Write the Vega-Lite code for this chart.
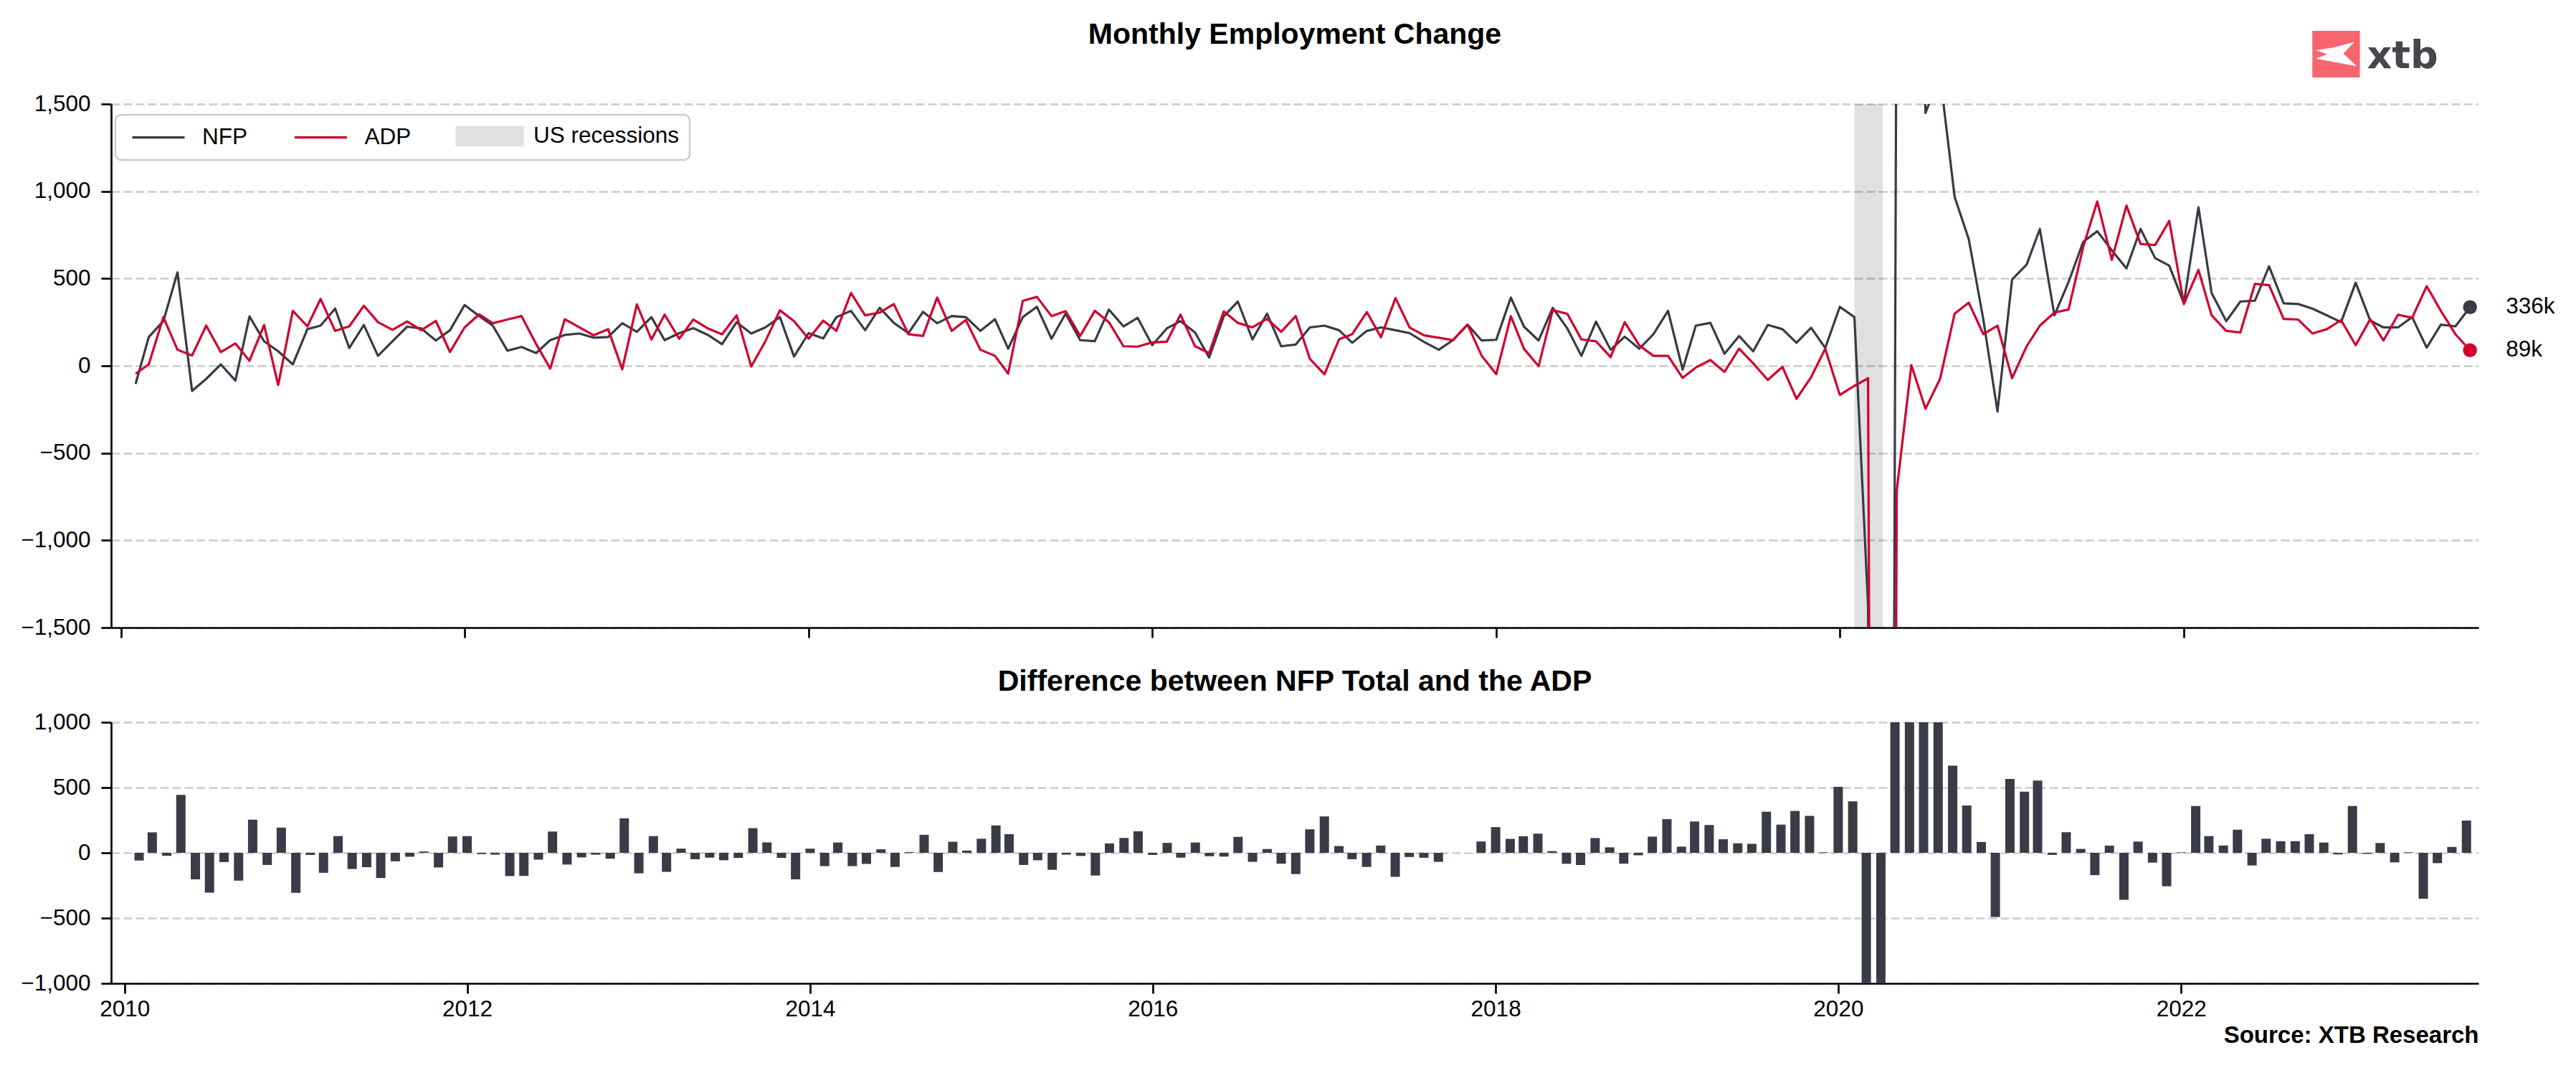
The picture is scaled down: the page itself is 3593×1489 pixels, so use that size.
{
  "$schema": "https://vega.github.io/schema/vega-lite/v6.json",
  "background": "white",
  "padding": {"left": 28, "top": 28, "right": 5, "bottom": 5},
  "config": {
    "font": "Liberation Sans",
    "view": {"stroke": null},
    "axis": {"domainColor": "#000000", "domainWidth": 2.7, "tickColor": "#000000", "tickWidth": 2.7, "tickSize": 14, "labelFont": "Liberation Sans", "labelFontSize": 31.5, "labelColor": "#000000", "gridColor": "#cccccc", "gridDash": [12, 5], "gridWidth": 2.5},
    "axisX": {"grid": false, "labelPadding": 6},
    "axisY": {"grid": true, "labelPadding": 15},
    "title": {"font": "Liberation Sans", "fontSize": 41, "fontWeight": "bold", "color": "#000000", "anchor": "middle", "frame": "group"}
  },
  "datasets": {
    "rec": [{"start": "2020-02-01", "end": "2020-04-01"}],
    "emp": [
      {"d": "2010-02-01", "NFP": -104, "ADP": -45, "Difference": -59},
      {"d": "2010-03-01", "NFP": 165, "ADP": 8, "Difference": 157},
      {"d": "2010-04-01", "NFP": 256, "ADP": 279, "Difference": -23},
      {"d": "2010-05-01", "NFP": 535, "ADP": 92, "Difference": 443},
      {"d": "2010-06-01", "NFP": -144, "ADP": 59, "Difference": -203},
      {"d": "2010-07-01", "NFP": -75, "ADP": 230, "Difference": -305},
      {"d": "2010-08-01", "NFP": 8, "ADP": 79, "Difference": -71},
      {"d": "2010-09-01", "NFP": -85, "ADP": 128, "Difference": -213},
      {"d": "2010-10-01", "NFP": 283, "ADP": 29, "Difference": 254},
      {"d": "2010-11-01", "NFP": 141, "ADP": 234, "Difference": -93},
      {"d": "2010-12-01", "NFP": 83, "ADP": -110, "Difference": 193},
      {"d": "2011-01-01", "NFP": 8, "ADP": 315, "Difference": -307},
      {"d": "2011-02-01", "NFP": 210, "ADP": 226, "Difference": -16},
      {"d": "2011-03-01", "NFP": 230, "ADP": 383, "Difference": -153},
      {"d": "2011-04-01", "NFP": 328, "ADP": 200, "Difference": 128},
      {"d": "2011-05-01", "NFP": 102, "ADP": 226, "Difference": -124},
      {"d": "2011-06-01", "NFP": 234, "ADP": 344, "Difference": -110},
      {"d": "2011-07-01", "NFP": 57, "ADP": 250, "Difference": -193},
      {"d": "2011-08-01", "NFP": 141, "ADP": 206, "Difference": -65},
      {"d": "2011-09-01", "NFP": 224, "ADP": 254, "Difference": -30},
      {"d": "2011-10-01", "NFP": 214, "ADP": 204, "Difference": 10},
      {"d": "2011-11-01", "NFP": 145, "ADP": 257, "Difference": -112},
      {"d": "2011-12-01", "NFP": 204, "ADP": 79, "Difference": 125},
      {"d": "2012-01-01", "NFP": 348, "ADP": 220, "Difference": 128},
      {"d": "2012-02-01", "NFP": 285, "ADP": 295, "Difference": -10},
      {"d": "2012-03-01", "NFP": 230, "ADP": 244, "Difference": -14},
      {"d": "2012-04-01", "NFP": 87, "ADP": 265, "Difference": -178},
      {"d": "2012-05-01", "NFP": 108, "ADP": 285, "Difference": -177},
      {"d": "2012-06-01", "NFP": 73, "ADP": 125, "Difference": -52},
      {"d": "2012-07-01", "NFP": 147, "ADP": -16, "Difference": 163},
      {"d": "2012-08-01", "NFP": 177, "ADP": 267, "Difference": -90},
      {"d": "2012-09-01", "NFP": 185, "ADP": 220, "Difference": -35},
      {"d": "2012-10-01", "NFP": 161, "ADP": 175, "Difference": -14},
      {"d": "2012-11-01", "NFP": 165, "ADP": 210, "Difference": -45},
      {"d": "2012-12-01", "NFP": 244, "ADP": -20, "Difference": 264},
      {"d": "2013-01-01", "NFP": 195, "ADP": 352, "Difference": -157},
      {"d": "2013-02-01", "NFP": 279, "ADP": 151, "Difference": 128},
      {"d": "2013-03-01", "NFP": 147, "ADP": 293, "Difference": -146},
      {"d": "2013-04-01", "NFP": 187, "ADP": 155, "Difference": 32},
      {"d": "2013-05-01", "NFP": 216, "ADP": 265, "Difference": -49},
      {"d": "2013-06-01", "NFP": 177, "ADP": 214, "Difference": -37},
      {"d": "2013-07-01", "NFP": 124, "ADP": 181, "Difference": -57},
      {"d": "2013-08-01", "NFP": 250, "ADP": 289, "Difference": -39},
      {"d": "2013-09-01", "NFP": 185, "ADP": -4, "Difference": 189},
      {"d": "2013-10-01", "NFP": 220, "ADP": 140, "Difference": 80},
      {"d": "2013-11-01", "NFP": 279, "ADP": 318, "Difference": -39},
      {"d": "2013-12-01", "NFP": 53, "ADP": 256, "Difference": -203},
      {"d": "2014-01-01", "NFP": 187, "ADP": 155, "Difference": 32},
      {"d": "2014-02-01", "NFP": 157, "ADP": 259, "Difference": -102},
      {"d": "2014-03-01", "NFP": 279, "ADP": 200, "Difference": 79},
      {"d": "2014-04-01", "NFP": 315, "ADP": 417, "Difference": -102},
      {"d": "2014-05-01", "NFP": 204, "ADP": 289, "Difference": -85},
      {"d": "2014-06-01", "NFP": 332, "ADP": 305, "Difference": 27},
      {"d": "2014-07-01", "NFP": 246, "ADP": 354, "Difference": -108},
      {"d": "2014-08-01", "NFP": 187, "ADP": 181, "Difference": 6},
      {"d": "2014-09-01", "NFP": 309, "ADP": 171, "Difference": 138},
      {"d": "2014-10-01", "NFP": 244, "ADP": 391, "Difference": -147},
      {"d": "2014-11-01", "NFP": 285, "ADP": 200, "Difference": 85},
      {"d": "2014-12-01", "NFP": 279, "ADP": 262, "Difference": 17},
      {"d": "2015-01-01", "NFP": 200, "ADP": 92, "Difference": 108},
      {"d": "2015-02-01", "NFP": 267, "ADP": 57, "Difference": 210},
      {"d": "2015-03-01", "NFP": 98, "ADP": -45, "Difference": 143},
      {"d": "2015-04-01", "NFP": 279, "ADP": 372, "Difference": -93},
      {"d": "2015-05-01", "NFP": 338, "ADP": 395, "Difference": -57},
      {"d": "2015-06-01", "NFP": 155, "ADP": 285, "Difference": -130},
      {"d": "2015-07-01", "NFP": 299, "ADP": 313, "Difference": -14},
      {"d": "2015-08-01", "NFP": 147, "ADP": 171, "Difference": -24},
      {"d": "2015-09-01", "NFP": 141, "ADP": 315, "Difference": -174},
      {"d": "2015-10-01", "NFP": 322, "ADP": 250, "Difference": 72},
      {"d": "2015-11-01", "NFP": 226, "ADP": 112, "Difference": 114},
      {"d": "2015-12-01", "NFP": 275, "ADP": 110, "Difference": 165},
      {"d": "2016-01-01", "NFP": 118, "ADP": 134, "Difference": -16},
      {"d": "2016-02-01", "NFP": 214, "ADP": 138, "Difference": 76},
      {"d": "2016-03-01", "NFP": 256, "ADP": 293, "Difference": -37},
      {"d": "2016-04-01", "NFP": 191, "ADP": 112, "Difference": 79},
      {"d": "2016-05-01", "NFP": 47, "ADP": 73, "Difference": -26},
      {"d": "2016-06-01", "NFP": 283, "ADP": 312, "Difference": -29},
      {"d": "2016-07-01", "NFP": 368, "ADP": 246, "Difference": 122},
      {"d": "2016-08-01", "NFP": 151, "ADP": 220, "Difference": -69},
      {"d": "2016-09-01", "NFP": 299, "ADP": 270, "Difference": 29},
      {"d": "2016-10-01", "NFP": 112, "ADP": 195, "Difference": -83},
      {"d": "2016-11-01", "NFP": 122, "ADP": 285, "Difference": -163},
      {"d": "2016-12-01", "NFP": 220, "ADP": 40, "Difference": 180},
      {"d": "2017-01-01", "NFP": 230, "ADP": -49, "Difference": 279},
      {"d": "2017-02-01", "NFP": 204, "ADP": 152, "Difference": 52},
      {"d": "2017-03-01", "NFP": 132, "ADP": 181, "Difference": -49},
      {"d": "2017-04-01", "NFP": 200, "ADP": 308, "Difference": -108},
      {"d": "2017-05-01", "NFP": 220, "ADP": 164, "Difference": 56},
      {"d": "2017-06-01", "NFP": 204, "ADP": 388, "Difference": -184},
      {"d": "2017-07-01", "NFP": 187, "ADP": 219, "Difference": -32},
      {"d": "2017-08-01", "NFP": 136, "ADP": 174, "Difference": -38},
      {"d": "2017-09-01", "NFP": 92, "ADP": 161, "Difference": -69},
      {"d": "2017-10-01", "NFP": 147, "ADP": 147, "Difference": 0},
      {"d": "2017-11-01", "NFP": 236, "ADP": 236, "Difference": 0},
      {"d": "2017-12-01", "NFP": 145, "ADP": 58, "Difference": 87},
      {"d": "2018-01-01", "NFP": 149, "ADP": -48, "Difference": 197},
      {"d": "2018-02-01", "NFP": 391, "ADP": 284, "Difference": 107},
      {"d": "2018-03-01", "NFP": 224, "ADP": 97, "Difference": 127},
      {"d": "2018-04-01", "NFP": 145, "ADP": -2, "Difference": 147},
      {"d": "2018-05-01", "NFP": 332, "ADP": 319, "Difference": 13},
      {"d": "2018-06-01", "NFP": 214, "ADP": 298, "Difference": -84},
      {"d": "2018-07-01", "NFP": 57, "ADP": 151, "Difference": -94},
      {"d": "2018-08-01", "NFP": 253, "ADP": 140, "Difference": 113},
      {"d": "2018-09-01", "NFP": 92, "ADP": 50, "Difference": 42},
      {"d": "2018-10-01", "NFP": 167, "ADP": 250, "Difference": -83},
      {"d": "2018-11-01", "NFP": 98, "ADP": 117, "Difference": -19},
      {"d": "2018-12-01", "NFP": 181, "ADP": 57, "Difference": 124},
      {"d": "2019-01-01", "NFP": 315, "ADP": 57, "Difference": 258},
      {"d": "2019-02-01", "NFP": -22, "ADP": -69, "Difference": 47},
      {"d": "2019-03-01", "NFP": 230, "ADP": -10, "Difference": 240},
      {"d": "2019-04-01", "NFP": 246, "ADP": 33, "Difference": 213},
      {"d": "2019-05-01", "NFP": 69, "ADP": -35, "Difference": 104},
      {"d": "2019-06-01", "NFP": 171, "ADP": 98, "Difference": 73},
      {"d": "2019-07-01", "NFP": 83, "ADP": 14, "Difference": 69},
      {"d": "2019-08-01", "NFP": 234, "ADP": -81, "Difference": 315},
      {"d": "2019-09-01", "NFP": 210, "ADP": -6, "Difference": 216},
      {"d": "2019-10-01", "NFP": 132, "ADP": -189, "Difference": 321},
      {"d": "2019-11-01", "NFP": 218, "ADP": -65, "Difference": 283},
      {"d": "2019-12-01", "NFP": 102, "ADP": 98, "Difference": 4},
      {"d": "2020-01-01", "NFP": 338, "ADP": -167, "Difference": 505},
      {"d": "2020-02-01", "NFP": 279, "ADP": -115, "Difference": 394},
      {"d": "2020-03-01", "NFP": -1373, "ADP": -71, "Difference": -1302},
      {"d": "2020-04-01", "NFP": -20500, "ADP": -19400, "Difference": -1100},
      {"d": "2020-05-01", "NFP": 2725, "ADP": -714, "Difference": 3439},
      {"d": "2020-06-01", "NFP": 4800, "ADP": 4, "Difference": 4796},
      {"d": "2020-07-01", "NFP": 1449, "ADP": -246, "Difference": 1695},
      {"d": "2020-08-01", "NFP": 1664, "ADP": -75, "Difference": 1739},
      {"d": "2020-09-01", "NFP": 967, "ADP": 299, "Difference": 668},
      {"d": "2020-10-01", "NFP": 725, "ADP": 362, "Difference": 363},
      {"d": "2020-11-01", "NFP": 264, "ADP": 181, "Difference": 83},
      {"d": "2020-12-01", "NFP": -262, "ADP": 230, "Difference": -492},
      {"d": "2021-01-01", "NFP": 495, "ADP": -71, "Difference": 566},
      {"d": "2021-02-01", "NFP": 580, "ADP": 112, "Difference": 468},
      {"d": "2021-03-01", "NFP": 784, "ADP": 230, "Difference": 554},
      {"d": "2021-04-01", "NFP": 289, "ADP": 305, "Difference": -16},
      {"d": "2021-05-01", "NFP": 480, "ADP": 322, "Difference": 158},
      {"d": "2021-06-01", "NFP": 710, "ADP": 680, "Difference": 30},
      {"d": "2021-07-01", "NFP": 771, "ADP": 942, "Difference": -171},
      {"d": "2021-08-01", "NFP": 662, "ADP": 607, "Difference": 55},
      {"d": "2021-09-01", "NFP": 558, "ADP": 918, "Difference": -360},
      {"d": "2021-10-01", "NFP": 784, "ADP": 698, "Difference": 86},
      {"d": "2021-11-01", "NFP": 617, "ADP": 692, "Difference": -75},
      {"d": "2021-12-01", "NFP": 574, "ADP": 830, "Difference": -256},
      {"d": "2022-01-01", "NFP": 358, "ADP": 354, "Difference": 4},
      {"d": "2022-02-01", "NFP": 908, "ADP": 550, "Difference": 358},
      {"d": "2022-03-01", "NFP": 417, "ADP": 289, "Difference": 128},
      {"d": "2022-04-01", "NFP": 256, "ADP": 200, "Difference": 56},
      {"d": "2022-05-01", "NFP": 368, "ADP": 191, "Difference": 177},
      {"d": "2022-06-01", "NFP": 373, "ADP": 470, "Difference": -97},
      {"d": "2022-07-01", "NFP": 570, "ADP": 462, "Difference": 108},
      {"d": "2022-08-01", "NFP": 358, "ADP": 269, "Difference": 89},
      {"d": "2022-09-01", "NFP": 354, "ADP": 265, "Difference": 89},
      {"d": "2022-10-01", "NFP": 328, "ADP": 185, "Difference": 143},
      {"d": "2022-11-01", "NFP": 289, "ADP": 210, "Difference": 79},
      {"d": "2022-12-01", "NFP": 250, "ADP": 262, "Difference": -12},
      {"d": "2023-01-01", "NFP": 476, "ADP": 118, "Difference": 358},
      {"d": "2023-02-01", "NFP": 259, "ADP": 267, "Difference": -8},
      {"d": "2023-03-01", "NFP": 220, "ADP": 145, "Difference": 75},
      {"d": "2023-04-01", "NFP": 220, "ADP": 293, "Difference": -73},
      {"d": "2023-05-01", "NFP": 279, "ADP": 275, "Difference": 4},
      {"d": "2023-06-01", "NFP": 104, "ADP": 456, "Difference": -352},
      {"d": "2023-07-01", "NFP": 236, "ADP": 315, "Difference": -79},
      {"d": "2023-08-01", "NFP": 226, "ADP": 181, "Difference": 45},
      {"d": "2023-09-01", "NFP": 336, "ADP": 89, "Difference": 247}
    ]
  },
  "spacing": 39,
  "vconcat": [
    {
      "width": 3302,
      "height": 730,
      "title": {"text": "Monthly Employment Change", "offset": -27},
      "layer": [
        {
          "data": {"name": "rec"},
          "mark": {"type": "rect", "color": "#000000", "opacity": 0.12},
          "encoding": {
            "x": {"field": "start", "type": "temporal", "scale": {"type": "utc", "domain": [{"year": 2009, "month": 12, "date": 11, "utc": true}, {"year": 2023, "month": 9, "date": 19, "utc": true}]}, "axis": {"title": null, "labels": false, "grid": false, "values": [{"year": 2010, "month": 1, "date": 1, "utc": true}, {"year": 2012, "month": 1, "date": 1, "utc": true}, {"year": 2014, "month": 1, "date": 1, "utc": true}, {"year": 2016, "month": 1, "date": 1, "utc": true}, {"year": 2018, "month": 1, "date": 1, "utc": true}, {"year": 2020, "month": 1, "date": 1, "utc": true}, {"year": 2022, "month": 1, "date": 1, "utc": true}]}},
            "x2": {"field": "end"}
          }
        },
        {
          "data": {"name": "emp"},
          "transform": [{"fold": ["NFP", "ADP"], "as": ["series", "value"]}],
          "mark": {"type": "line", "strokeWidth": 3.2, "clip": true, "strokeJoin": "round"},
          "encoding": {
            "x": {
              "field": "d", "type": "temporal",
              "scale": {"type": "utc", "domain": [{"year": 2009, "month": 12, "date": 11, "utc": true}, {"year": 2023, "month": 9, "date": 19, "utc": true}]},
              "axis": {"title": null, "labels": false, "grid": false, "values": [{"year": 2010, "month": 1, "date": 1, "utc": true}, {"year": 2012, "month": 1, "date": 1, "utc": true}, {"year": 2014, "month": 1, "date": 1, "utc": true}, {"year": 2016, "month": 1, "date": 1, "utc": true}, {"year": 2018, "month": 1, "date": 1, "utc": true}, {"year": 2020, "month": 1, "date": 1, "utc": true}, {"year": 2022, "month": 1, "date": 1, "utc": true}]}
            },
            "y": {
              "field": "value", "type": "quantitative",
              "scale": {"domain": [-1500, 1500], "nice": false, "zero": false},
              "axis": {"title": null, "format": ",.0f", "values": [-1500, -1000, -500, 0, 500, 1000, 1500], "grid": true}
            },
            "color": {
              "field": "series", "type": "nominal",
              "scale": {"domain": ["NFP", "ADP", "US recessions"], "range": ["#383b46", "#d0002d", "#e0e0e0"]},
              "legend": {
                "orient": "none", "legendX": 6, "legendY": 15, "direction": "horizontal", "title": null,
                "labelFontSize": 31.5, "labelColor": "#000000", "labelFont": "Liberation Sans", "labelLimit": 0,
                "symbolSize": 400, "symbolStrokeWidth": 3.2, "symbolOffset": 30.25, "labelOffset": 45.25, "columnPadding": 56.5, "padding": 14,
                "strokeColor": "#cccccc", "fillColor": "#ffffff", "cornerRadius": 8,
                "encode": {
                  "legend": {"update": {"strokeWidth": {"value": 2.5}}},
                  "symbols": {"update": {
                    "shape": {"signal": "datum.value === 'US recessions' ? 'M-4.6,-1.25H4.6V1.25H-4.6Z' : 'M-3.65,0H3.65'"},
                    "fill": {"signal": "datum.value === 'US recessions' ? '#e0e0e0' : 'transparent'"},
                    "stroke": {"signal": "datum.value === 'NFP' ? '#383b46' : (datum.value === 'ADP' ? '#d0002d' : 'transparent')"},
                    "opacity": {"value": 1}
                  }}
                }
              }
            }
          }
        },
        {
          "data": {"name": "emp"},
          "transform": [{"fold": ["NFP", "ADP"], "as": ["series", "value"]}, {"filter": "utcyear(datum.d) == 2023 && utcmonth(datum.d) == 8"}],
          "mark": {"type": "point", "filled": true, "size": 380, "opacity": 1},
          "encoding": {
            "x": {"field": "d", "type": "temporal", "scale": {"type": "utc", "domain": [{"year": 2009, "month": 12, "date": 11, "utc": true}, {"year": 2023, "month": 9, "date": 19, "utc": true}]}, "axis": {"title": null, "labels": false, "grid": false, "values": [{"year": 2010, "month": 1, "date": 1, "utc": true}, {"year": 2012, "month": 1, "date": 1, "utc": true}, {"year": 2014, "month": 1, "date": 1, "utc": true}, {"year": 2016, "month": 1, "date": 1, "utc": true}, {"year": 2018, "month": 1, "date": 1, "utc": true}, {"year": 2020, "month": 1, "date": 1, "utc": true}, {"year": 2022, "month": 1, "date": 1, "utc": true}]}},
            "y": {"field": "value", "type": "quantitative", "scale": {"domain": [-1500, 1500], "nice": false, "zero": false}, "axis": {"title": null, "format": ",.0f", "values": [-1500, -1000, -500, 0, 500, 1000, 1500], "grid": true}},
            "color": {"condition": {"test": "datum.series === 'NFP'", "value": "#383b46"}, "value": "#d0002d"}
          }
        },
        {
          "data": {"name": "emp"},
          "transform": [{"fold": ["NFP", "ADP"], "as": ["series", "value"]}, {"filter": "utcyear(datum.d) == 2023 && utcmonth(datum.d) == 8"}],
          "mark": {"type": "text", "align": "left", "baseline": "middle", "dx": 50, "fontSize": 31.5, "font": "Liberation Sans", "color": "#000000", "text": {"expr": "datum.value + 'k'"}},
          "encoding": {
            "x": {"field": "d", "type": "temporal", "scale": {"type": "utc", "domain": [{"year": 2009, "month": 12, "date": 11, "utc": true}, {"year": 2023, "month": 9, "date": 19, "utc": true}]}, "axis": {"title": null, "labels": false, "grid": false, "values": [{"year": 2010, "month": 1, "date": 1, "utc": true}, {"year": 2012, "month": 1, "date": 1, "utc": true}, {"year": 2014, "month": 1, "date": 1, "utc": true}, {"year": 2016, "month": 1, "date": 1, "utc": true}, {"year": 2018, "month": 1, "date": 1, "utc": true}, {"year": 2020, "month": 1, "date": 1, "utc": true}, {"year": 2022, "month": 1, "date": 1, "utc": true}]}},
            "y": {"field": "value", "type": "quantitative", "scale": {"domain": [-1500, 1500], "nice": false, "zero": false}, "axis": {"title": null, "format": ",.0f", "values": [-1500, -1000, -500, 0, 500, 1000, 1500], "grid": true}}
          }
        },
        {
          "data": {"values": [{}]},
          "mark": {"type": "rect", "color": "#f8656f", "clip": false},
          "encoding": {
            "x": {"datum": {"year": 2022, "month": 10, "date": 1, "utc": true}, "type": "temporal", "scale": {"type": "utc", "domain": [{"year": 2009, "month": 12, "date": 11, "utc": true}, {"year": 2023, "month": 9, "date": 19, "utc": true}]}, "axis": {"title": null, "labels": false, "grid": false, "values": [{"year": 2010, "month": 1, "date": 1, "utc": true}, {"year": 2012, "month": 1, "date": 1, "utc": true}, {"year": 2014, "month": 1, "date": 1, "utc": true}, {"year": 2016, "month": 1, "date": 1, "utc": true}, {"year": 2018, "month": 1, "date": 1, "utc": true}, {"year": 2020, "month": 1, "date": 1, "utc": true}, {"year": 2022, "month": 1, "date": 1, "utc": true}]}},
            "x2": {"datum": {"year": 2023, "month": 1, "date": 10, "utc": true}},
            "y": {"datum": 1919, "type": "quantitative", "scale": {"domain": [-1500, 1500], "nice": false, "zero": false}, "axis": {"title": null, "format": ",.0f", "values": [-1500, -1000, -500, 0, 500, 1000, 1500], "grid": true}},
            "y2": {"datum": 1652}
          }
        },
        {
          "data": {"values": [{}]},
          "mark": {"type": "point", "shape": "M-1,-0.19L-0.19,-0.31L0.89,-0.59L0.34,-0.02L1,0.59L-0.3,0.35L-1,0.22L-0.44,0Z", "filled": true, "color": "#ffffff", "opacity": 1, "size": 3249, "clip": false},
          "encoding": {
            "x": {"datum": {"year": 2022, "month": 11, "date": 21, "utc": true}, "type": "temporal", "scale": {"type": "utc", "domain": [{"year": 2009, "month": 12, "date": 11, "utc": true}, {"year": 2023, "month": 9, "date": 19, "utc": true}]}, "axis": {"title": null, "labels": false, "grid": false, "values": [{"year": 2010, "month": 1, "date": 1, "utc": true}, {"year": 2012, "month": 1, "date": 1, "utc": true}, {"year": 2014, "month": 1, "date": 1, "utc": true}, {"year": 2016, "month": 1, "date": 1, "utc": true}, {"year": 2018, "month": 1, "date": 1, "utc": true}, {"year": 2020, "month": 1, "date": 1, "utc": true}, {"year": 2022, "month": 1, "date": 1, "utc": true}]}},
            "y": {"datum": 1786, "type": "quantitative", "scale": {"domain": [-1500, 1500], "nice": false, "zero": false}, "axis": {"title": null, "format": ",.0f", "values": [-1500, -1000, -500, 0, 500, 1000, 1500], "grid": true}}
          }
        },
        {
          "data": {"values": [{}]},
          "mark": {"type": "text", "text": "xtb", "font": "DejaVu Sans", "fontWeight": "bold", "fontSize": 54, "color": "#46464e", "align": "left", "baseline": "alphabetic", "letterSpacing": 3, "clip": false},
          "encoding": {
            "x": {"datum": {"year": 2023, "month": 1, "date": 25, "utc": true}, "type": "temporal", "scale": {"type": "utc", "domain": [{"year": 2009, "month": 12, "date": 11, "utc": true}, {"year": 2023, "month": 9, "date": 19, "utc": true}]}, "axis": {"title": null, "labels": false, "grid": false, "values": [{"year": 2010, "month": 1, "date": 1, "utc": true}, {"year": 2012, "month": 1, "date": 1, "utc": true}, {"year": 2014, "month": 1, "date": 1, "utc": true}, {"year": 2016, "month": 1, "date": 1, "utc": true}, {"year": 2018, "month": 1, "date": 1, "utc": true}, {"year": 2020, "month": 1, "date": 1, "utc": true}, {"year": 2022, "month": 1, "date": 1, "utc": true}]}},
            "y": {"datum": 1705, "type": "quantitative", "scale": {"domain": [-1500, 1500], "nice": false, "zero": false}, "axis": {"title": null, "format": ",.0f", "values": [-1500, -1000, -500, 0, 500, 1000, 1500], "grid": true}}
          }
        }
      ]
    },
    {
      "width": 3302,
      "height": 364,
      "title": {"text": "Difference between NFP Total and the ADP", "offset": 19},
      "data": {"name": "emp"},
      "mark": {"type": "bar", "width": 13, "color": "#393c47", "clip": true},
      "encoding": {
        "x": {
          "field": "d", "type": "temporal",
          "scale": {"type": "utc", "domain": [{"year": 2009, "month": 12, "date": 11, "utc": true}, {"year": 2023, "month": 9, "date": 19, "utc": true}]},
          "axis": {
            "format": "%Y", "grid": false,
            "values": [{"year": 2010, "month": 1, "date": 1, "utc": true}, {"year": 2012, "month": 1, "date": 1, "utc": true}, {"year": 2014, "month": 1, "date": 1, "utc": true}, {"year": 2016, "month": 1, "date": 1, "utc": true}, {"year": 2018, "month": 1, "date": 1, "utc": true}, {"year": 2020, "month": 1, "date": 1, "utc": true}, {"year": 2022, "month": 1, "date": 1, "utc": true}],
            "title": "Source: XTB Research", "titleX": 3302, "titleY": 82, "titleAlign": "right", "titleAnchor": "end", "titleBaseline": "alphabetic",
            "titleFont": "Liberation Sans", "titleFontSize": 33, "titleFontWeight": "bold", "titleColor": "#000000"
          }
        },
        "y": {
          "field": "Difference", "type": "quantitative",
          "scale": {"domain": [-1000, 1000], "nice": false, "zero": false},
          "axis": {"title": null, "format": ",.0f", "values": [-1000, -500, 0, 500, 1000], "grid": true}
        }
      }
    }
  ]
}
